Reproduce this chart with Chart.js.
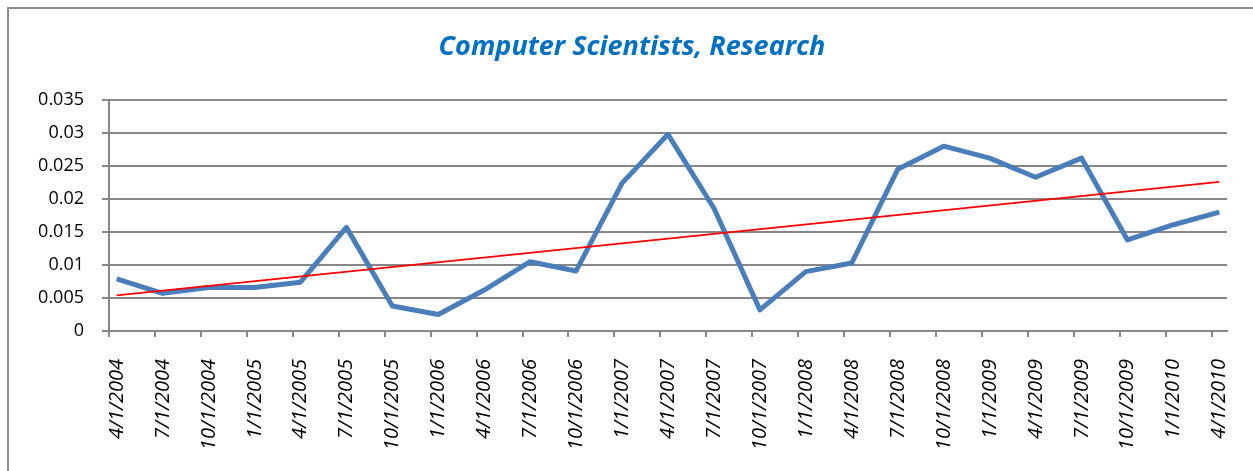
<!DOCTYPE html>
<html><head><meta charset="utf-8">
<script src="https://cdn.jsdelivr.net/npm/chart.js@4.4.1/dist/chart.umd.min.js"></script>
<style>
html,body{margin:0;padding:0;background:#fff;}
#wrap{position:relative;width:1253px;height:471px;overflow:hidden;background:#fff;}
#frame{position:absolute;left:7px;top:7px;width:1400px;height:600px;border-left:2px solid #8c8c8c;border-top:2px solid #8c8c8c;}
canvas{position:absolute;left:0;top:0;}
</style></head><body>
<div id="wrap"><div id="frame"></div><canvas id="c" width="1253" height="471"></canvas></div>
<script>
const chartTitle = 'Computer Scientists, Research';
const categories = ['4/1/2004','7/1/2004','10/1/2004','1/1/2005','4/1/2005','7/1/2005','10/1/2005',
  '1/1/2006','4/1/2006','7/1/2006','10/1/2006','1/1/2007','4/1/2007','7/1/2007','10/1/2007',
  '1/1/2008','4/1/2008','7/1/2008','10/1/2008','1/1/2009','4/1/2009','7/1/2009','10/1/2009',
  '1/1/2010','4/1/2010'];
const values = [0.0079,0.0057,0.0066,0.0066,0.0074,0.0157,0.0038,
  0.0025,0.0062,0.0105,0.0091,0.0224,0.0298,0.0186,0.0032,
  0.0090,0.0103,0.0245,0.0280,0.0262,0.0233,0.0262,0.0138,
  0.0161,0.0180];
const trendValues = [0.0054, 0.0226];   // linear trendline, first and last category
const yTickValues = [0,0.005,0.01,0.015,0.02,0.025,0.03,0.035];
const yTickLabels = ['0','0.005','0.01','0.015','0.02','0.025','0.03','0.035'];

function parseDate(s){const p=s.split('/').map(Number);return {m:p[0],d:p[1],y:p[2]};}
const base = parseDate(categories[0]);
function monthIndex(s){const d=parseDate(s);return (d.y-base.y)*12+(d.m-base.m);}
const lastMonth = monthIndex(categories[categories.length-1]);
const axisMax = lastMonth + 1;   // one month slot per month, last slot included

const seriesPoints = categories.map((c,i)=>({x:monthIndex(c)+0.5,y:values[i]}));
const trendPoints = [
  {x:monthIndex(categories[0])+0.5,y:trendValues[0]},
  {x:monthIndex(categories[categories.length-1])+0.5,y:trendValues[1]}
];

function noPad(s){s.paddingLeft=0;s.paddingRight=0;s.paddingTop=0;s.paddingBottom=0;}

const gridColor = '#878787';
new Chart(document.getElementById('c'), {
  type:'line',
  data:{datasets:[
    {label:'Trend',data:trendPoints,borderColor:'#ff0000',borderWidth:1.6,pointRadius:0,order:0,fill:false},
    {label:'Computer Scientists, Research',data:seriesPoints,borderColor:'#4a7ebb',borderWidth:5,pointRadius:0,tension:0,order:1,fill:false,borderJoinStyle:'round'}
  ]},
  options:{
    responsive:false,animation:false,
    layout:{padding:{left:37,right:26,top:0,bottom:0}},
    plugins:{
      legend:{display:false},tooltip:{enabled:false},
      title:{display:true,text:chartTitle,color:'#0070c0',
        font:{family:'"Open Sans", sans-serif',size:27,weight:'bold',style:'italic',lineHeight:1.2},
        padding:{top:31.6,bottom:36.0}}
    },
    scales:{
      x:{type:'linear',min:0,max:axisMax,
        afterBuildTicks:(s)=>{s.ticks=categories.map(c=>({value:monthIndex(c)}));},
        afterFit:(s)=>{s.height=140;noPad(s);},
        grid:{drawOnChartArea:false,drawTicks:true,tickLength:6,color:gridColor,lineWidth:2},
        border:{display:true,color:gridColor,width:2},
        ticks:{autoSkip:false,minRotation:90,maxRotation:90,labelOffset:8,padding:22,color:'#000',
          font:{family:'"Open Sans", sans-serif',size:20,style:'italic'},
          callback:(v,i)=>categories[i]}
      },
      y:{min:0,max:0.035,
        afterBuildTicks:(s)=>{s.ticks=yTickValues.map(v=>({value:v}));},
        afterFit:(s)=>{s.width=72;noPad(s);},
        grid:{color:gridColor,lineWidth:2,drawTicks:true,tickLength:7},
        border:{display:true,color:gridColor,width:2},
        ticks:{padding:18,color:'#000',font:{family:'"Open Sans", sans-serif',size:18},
          callback:(v,i)=>yTickLabels[i]}
      }
    }
  }
});
</script>
</body></html>
